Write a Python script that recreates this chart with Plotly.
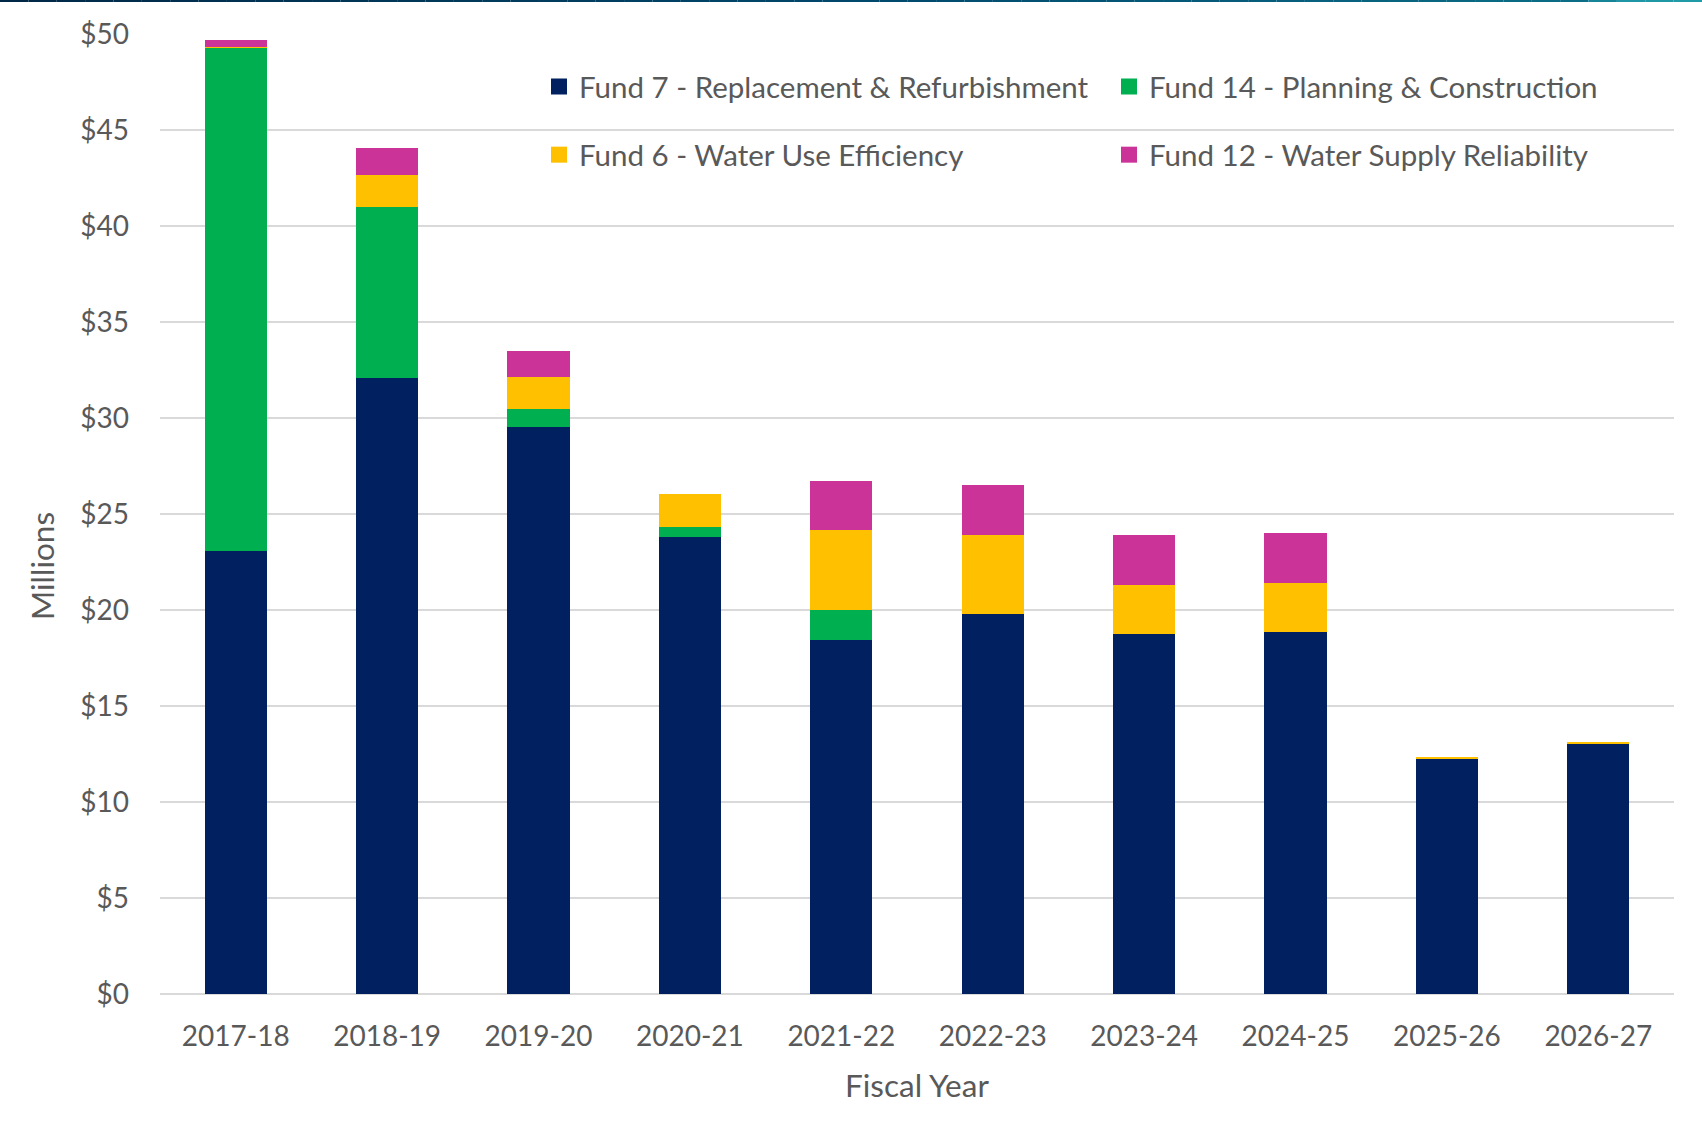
import plotly.graph_objects as go

years = ["2017-18", "2018-19", "2019-20", "2020-21", "2021-22",
         "2022-23", "2023-24", "2024-25", "2025-26", "2026-27"]

fund7 = [23.08, 32.09, 29.52, 23.82, 18.43, 19.80, 18.77, 18.86, 12.23, 13.02]
fund14 = [26.21, 8.90, 0.95, 0.50, 1.57, 0.0, 0.0, 0.0, 0.0, 0.0]
fund6 = [0.05, 1.67, 1.68, 1.72, 4.15, 4.12, 2.54, 2.53, 0.11, 0.11]
fund12 = [0.33, 1.42, 1.33, 0.0, 2.58, 2.61, 2.58, 2.60, 0.0, 0.0]

series_names = ["Fund 7 - Replacement & Refurbishment",
                "Fund 14 - Planning & Construction",
                "Fund 6 - Water Use Efficiency",
                "Fund 12 - Water Supply Reliability"]
series_values = [fund7, fund14, fund6, fund12]
series_colors = ["#002060", "#00B050", "#FFC000", "#CC3399"]
legend_ids = ["legend", "legend2", "legend3", "legend4"]

FONT = "Lato"
GRAY = "#595959"

fig = go.Figure()
for name, vals, color in zip(series_names, series_values, series_colors):
    fig.add_trace(go.Bar(
        x=years, y=vals, name=name, marker=dict(color=color, line=dict(width=0)),
        showlegend=False,
    ))
for name, color, lg in zip(series_names, series_colors, legend_ids):
    fig.add_trace(go.Scatter(
        x=[None], y=[None], mode="markers", name=name, legend=lg,
        marker=dict(symbol="square", size=20, color=color),
    ))

W, H = 1702, 1135
L, R, T, B = 160, 28, 34, 141
PW, PH = W - L - R, H - T - B


def px_x(x):
    return (x - L) / PW


def px_y(y):
    return 1 - (y - T) / PH


legend_common = dict(
    orientation="h", xanchor="left", yanchor="middle", traceorder="normal",
    font=dict(family=FONT, size=29.5, color=GRAY),
    bgcolor="rgba(0,0,0,0)", itemclick=False, itemdoubleclick=False,
)
col_x = [539, 1109]
row_y = [86.7, 155]

fig.update_layout(
    width=W, height=H,
    margin=dict(l=L, r=R, t=T, b=B),
    paper_bgcolor="white", plot_bgcolor="white",
    barmode="stack", bargap=0.59,
    font=dict(family=FONT, size=28, color=GRAY),
    legend=dict(x=px_x(col_x[0]), y=px_y(row_y[0]), **legend_common),
    legend2=dict(x=px_x(col_x[1]), y=px_y(row_y[0]), **legend_common),
    legend3=dict(x=px_x(col_x[0]), y=px_y(row_y[1]), **legend_common),
    legend4=dict(x=px_x(col_x[1]), y=px_y(row_y[1]), **legend_common),
    xaxis=dict(
        showgrid=False, showline=False, ticks="",
        tickfont=dict(family=FONT, size=28, color=GRAY),
        ticklabelstandoff=23,
    ),
    yaxis=dict(
        range=[0, 50], dtick=5, tickprefix="$",
        showgrid=True, gridcolor="#D9D9D9", gridwidth=2,
        zeroline=True, zerolinecolor="#D9D9D9", zerolinewidth=2,
        showline=False, ticks="",
        tickfont=dict(family=FONT, size=28, color=GRAY),
        ticklabelstandoff=30,
    ),
    annotations=[
        dict(text="Millions", xref="paper", yref="paper",
             x=px_x(42), y=px_y(566),
             xanchor="center", yanchor="middle", textangle=-90, showarrow=False,
             font=dict(family=FONT, size=31.5, color=GRAY)),
        dict(text="Fiscal Year", xref="paper", yref="paper",
             x=0.5, y=px_y(1085),
             xanchor="center", yanchor="middle", showarrow=False,
             font=dict(family=FONT, size=31.5, color=GRAY)),
    ],
)

# thin gradient rule at the very top of the page
stops = [(0.0, (0, 40, 70)), (0.5, (0, 72, 108)), (0.93, (12, 110, 135)),
         (0.95, (30, 150, 165)), (1.0, (32, 155, 168))]
N = 60
shapes = []
for i in range(N):
    f = (i + 0.5) / N
    c = stops[-1][1]
    for j in range(len(stops) - 1):
        if stops[j][0] <= f <= stops[j + 1][0]:
            a, ca = stops[j]
            b, cb = stops[j + 1]
            t = (f - a) / (b - a)
            c = tuple(int(ca[k] + (cb[k] - ca[k]) * t) for k in range(3))
            break
    shapes.append(dict(type="rect", xref="paper", yref="paper",
                       x0=px_x(i / N * W), x1=px_x((i + 1) / N * W),
                       y0=px_y(2), y1=px_y(0),
                       line=dict(width=0), fillcolor="rgb(%d,%d,%d)" % c, layer="above"))
fig.update_layout(shapes=shapes)

fig.write_html("out.html", config={"displayModeBar": False},
               post_script="document.body.style.margin='0';")
